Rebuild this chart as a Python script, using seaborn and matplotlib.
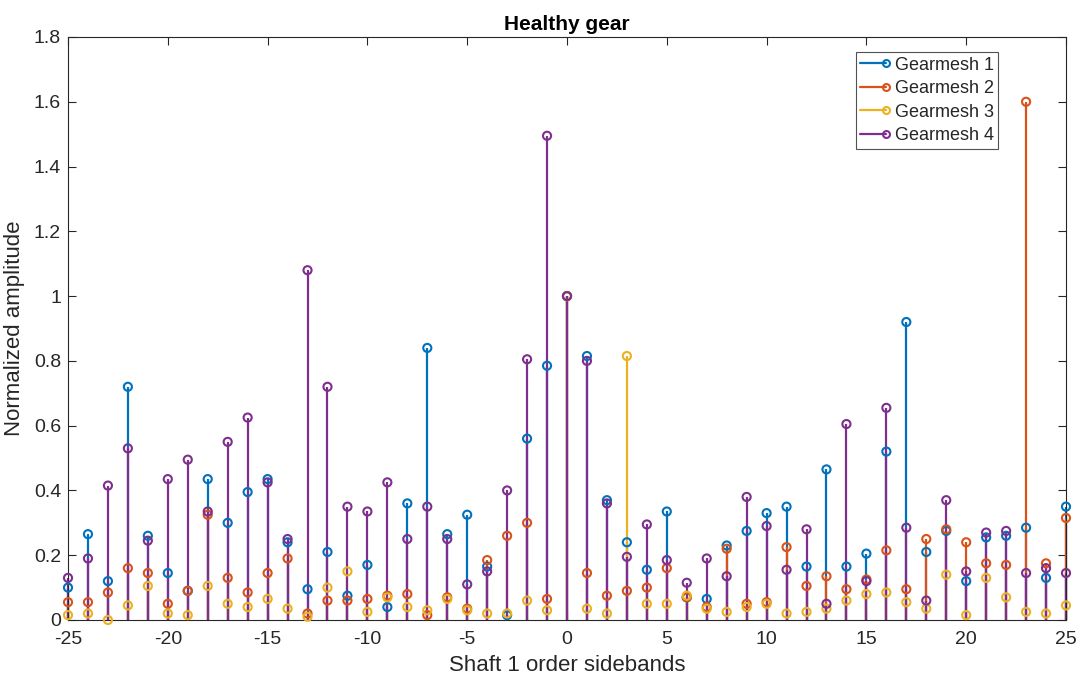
import seaborn as sns
import matplotlib.pyplot as plt
import numpy as np
import pandas as pd
from matplotlib.lines import Line2D
from matplotlib.legend_handler import HandlerLine2D

sidebands = list(range(-25, 26))

gearmesh1 = [0.10, 0.265, 0.12, 0.72, 0.26, 0.145, 0.09, 0.435, 0.30, 0.395,
             0.435, 0.24, 0.095, 0.21, 0.075, 0.17, 0.04, 0.36, 0.84, 0.265,
             0.325, 0.165, 0.015, 0.56, 0.785, 1.0, 0.815, 0.37, 0.24, 0.155,
             0.335, 0.07, 0.065, 0.23, 0.275, 0.33, 0.35, 0.165, 0.465, 0.165,
             0.205, 0.52, 0.92, 0.21, 0.275, 0.12, 0.255, 0.26, 0.285, 0.13, 0.35]
gearmesh2 = [0.055, 0.055, 0.085, 0.16, 0.145, 0.05, 0.09, 0.325, 0.13, 0.085,
             0.145, 0.19, 0.02, 0.06, 0.06, 0.065, 0.075, 0.08, 0.015, 0.07,
             0.035, 0.185, 0.26, 0.30, 0.065, 1.0, 0.145, 0.075, 0.09, 0.10,
             0.16, 0.07, 0.04, 0.22, 0.05, 0.055, 0.225, 0.105, 0.135, 0.095,
             0.125, 0.215, 0.095, 0.25, 0.28, 0.24, 0.175, 0.17, 1.60, 0.175, 0.315]
gearmesh3 = [0.015, 0.02, 0.0, 0.045, 0.105, 0.02, 0.015, 0.105, 0.05, 0.04,
             0.065, 0.035, 0.01, 0.10, 0.15, 0.025, 0.07, 0.04, 0.03, 0.065,
             0.03, 0.02, 0.02, 0.06, 0.03, 1.0, 0.035, 0.02, 0.815, 0.05,
             0.05, 0.075, 0.035, 0.025, 0.04, 0.05, 0.02, 0.025, 0.035, 0.06,
             0.08, 0.085, 0.055, 0.035, 0.14, 0.015, 0.13, 0.07, 0.025, 0.02, 0.045]
gearmesh4 = [0.13, 0.19, 0.415, 0.53, 0.245, 0.435, 0.495, 0.335, 0.55, 0.625,
             0.425, 0.25, 1.08, 0.72, 0.35, 0.335, 0.425, 0.25, 0.35, 0.25,
             0.11, 0.15, 0.40, 0.805, 1.495, 1.0, 0.80, 0.36, 0.195, 0.295,
             0.185, 0.115, 0.19, 0.135, 0.38, 0.29, 0.155, 0.28, 0.05, 0.605,
             0.12, 0.655, 0.285, 0.06, 0.37, 0.15, 0.27, 0.275, 0.145, 0.16, 0.145]

names = ['Gearmesh 1', 'Gearmesh 2', 'Gearmesh 3', 'Gearmesh 4']
colors = ['#0072BD', '#D95319', '#EDB120', '#7E2F8E']

df = pd.DataFrame({'order': sidebands * 4,
                   'amp': gearmesh1 + gearmesh2 + gearmesh3 + gearmesh4,
                   'series': np.repeat(names, len(sidebands))})

sns.set_style('white')
plt.rcParams['font.family'] = ['Liberation Sans', 'DejaVu Sans']
plt.rcParams['axes.unicode_minus'] = False
txt = '#262626'


# matlab style legend entry: line with the marker at its right end
class StemHandler(HandlerLine2D):
    def create_artists(self, legend, orig_handle, xdescent, ydescent,
                       width, height, fontsize, trans):
        arts = super().create_artists(legend, orig_handle, xdescent, ydescent,
                                      width, height, fontsize, trans)
        arts[0].set_markevery([2])
        return arts


fig = plt.figure(figsize=(10.91, 6.79), dpi=100)
ax = fig.add_axes([68/1091, 1 - 620/679, (1066-68)/1091, (620-37)/679])

for name, c in zip(names, colors):
    d = df[df['series'] == name]
    ax.vlines(d['order'], 0, d['amp'], color=c, lw=1.6, zorder=2, clip_on=False)
    sns.scatterplot(x=d['order'], y=d['amp'], ax=ax, marker='o', s=34,
                    facecolor='none', edgecolor=c, linewidth=1.5, zorder=3,
                    clip_on=False)

ax.set_xlim(-25, 25)
ax.set_ylim(0, 1.8)
ax.set_xticks(range(-25, 26, 5))
yt = np.round(np.arange(0, 1.81, 0.2), 1)
ax.set_yticks(yt)
ax.set_yticklabels([('%g' % v) for v in yt])
ax.tick_params(direction='in', length=6, width=0.8, labelsize=14, colors=txt,
               top=True, right=True, bottom=True, left=True)
ax.tick_params(axis='x', pad=8)
ax.tick_params(axis='y', pad=5)
for s in ax.spines.values():
    s.set_color(txt)
    s.set_linewidth(0.8)

ax.set_xlabel('Shaft 1 order sidebands', fontsize=16, color=txt, labelpad=5)
ax.set_ylabel('Normalized amplitude', fontsize=16, color=txt, labelpad=6)
ax.set_title('Healthy gear', fontsize=15, fontweight='bold', color='black', pad=5)

handles = [Line2D([0, 1], [0, 0], color=c, lw=1.6, marker='o', markersize=5,
                  markerfacecolor='none', markeredgewidth=1.5)
           for c in colors]
leg = ax.legend(handles, names, loc='upper right', bbox_to_anchor=(0.932, 0.974),
                borderaxespad=0, fontsize=13, frameon=True, fancybox=False,
                numpoints=1, handlelength=1.4, handletextpad=0.5, borderpad=0.25,
                labelspacing=0.36, handler_map={Line2D: StemHandler()})
leg.get_frame().set_edgecolor(txt)
leg.get_frame().set_linewidth(0.8)

fig.savefig('out.png', dpi=100)
